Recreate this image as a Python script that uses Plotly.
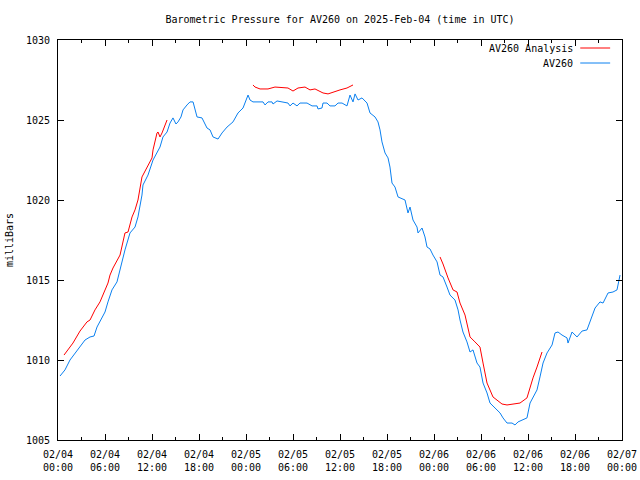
import plotly.graph_objects as go

# Hours since 2025-02-04 00:00 UTC
blue_hours = [0.26, 0.89, 1.53, 2.17, 2.81, 3.45, 4.09, 4.60, 4.98, 5.62, 6.00, 6.38, 6.89, 7.53, 7.92,
              8.55, 9.19, 9.83, 10.21, 10.47, 10.72, 10.85, 11.49, 12.13, 12.64, 13.02, 13.40, 13.92,
              14.30, 14.68, 15.06, 15.32, 15.70, 15.96, 16.47, 16.85, 17.24, 17.75, 18.38, 19.02, 19.41,
              19.79, 20.43, 20.94, 21.58, 22.34, 22.98, 23.62, 24.26, 24.51, 24.89, 26.17, 26.43, 26.81,
              27.32, 27.45, 27.96, 28.60, 29.36, 29.62, 30.00, 30.51, 30.89, 31.28, 31.79, 32.43, 33.07,
              33.19, 33.70, 33.83, 34.34, 34.72, 35.36, 35.75, 36.26, 36.89, 37.28, 37.66, 37.92, 38.30,
              38.81, 39.45, 39.83, 40.47, 40.85, 41.11, 41.36, 41.75, 42.13, 42.38, 42.64, 43.02, 43.41,
              44.30, 44.68, 44.94, 45.32, 45.83, 45.96, 46.47, 46.85, 47.11, 47.49, 47.87, 48.39, 48.77,
              49.15, 49.66, 50.04, 50.68, 51.07, 51.32, 51.70, 52.21, 52.60, 52.98, 53.49, 53.87, 54.26,
              54.77, 55.15, 55.79, 56.43, 56.81, 57.32, 57.96, 58.34, 58.73, 59.36, 59.87, 60.26, 60.64,
              61.15, 61.53, 61.92, 62.43, 63.07, 63.45, 63.83, 64.34, 64.98, 65.11, 65.62, 66.26, 66.90,
              67.53, 68.17, 68.56, 69.19, 69.58, 70.22, 70.85, 71.36, 71.75]
blue_mb = [1009.00, 1009.38, 1010.00, 1010.44, 1010.81, 1011.25, 1011.44, 1011.50, 1012.06, 1012.63,
           1013.00, 1013.63, 1014.38, 1014.88, 1015.69, 1016.88, 1017.94, 1018.31, 1018.94, 1019.56,
           1020.31, 1020.94, 1021.56, 1022.50, 1022.94, 1023.31, 1023.94, 1024.25, 1024.81, 1025.13,
           1024.75, 1024.88, 1025.19, 1025.63, 1025.94, 1026.13, 1026.13, 1025.19, 1025.13, 1024.50,
           1024.38, 1023.94, 1023.81, 1024.19, 1024.56, 1024.88, 1025.44, 1025.75, 1026.56, 1026.25,
           1026.13, 1026.13, 1025.94, 1026.13, 1026.13, 1026.00, 1026.19, 1026.13, 1026.06, 1025.88,
           1026.06, 1025.88, 1026.06, 1026.06, 1026.06, 1025.88, 1025.88, 1025.69, 1025.75, 1026.06,
           1026.06, 1025.88, 1025.88, 1026.06, 1026.06, 1025.88, 1026.56, 1026.13, 1026.63, 1026.25,
           1026.38, 1026.06, 1025.44, 1025.19, 1024.88, 1024.38, 1023.63, 1022.94, 1022.63, 1022.06,
           1021.06, 1020.81, 1020.19, 1020.00, 1019.19, 1019.56, 1018.75, 1018.31, 1017.94, 1018.25,
           1017.69, 1017.06, 1016.94, 1016.56, 1016.13, 1015.31, 1015.19, 1014.56, 1014.06, 1013.75,
           1013.13, 1012.50, 1011.75, 1011.13, 1010.50, 1010.63, 1009.81, 1009.56, 1008.56, 1007.94,
           1007.31, 1007.00, 1006.69, 1006.38, 1006.06, 1006.06, 1005.94, 1006.13, 1006.25, 1006.38,
           1007.31, 1007.69, 1008.13, 1008.94, 1009.81, 1010.44, 1010.94, 1011.69, 1011.75, 1011.56,
           1011.38, 1011.06, 1011.75, 1011.44, 1011.81, 1011.88, 1012.69, 1013.25, 1013.63, 1013.56,
           1014.19, 1014.25, 1014.38, 1015.31]

# Analysis series (None = gap between analysis runs)
red_hours = [0.77, 1.28, 1.91, 2.81, 3.70, 4.09, 4.72, 5.36, 5.74, 6.38, 6.64, 7.02, 7.92, 8.55, 8.94,
             9.45, 9.83, 10.21, 10.72, 11.36, 12.00, 12.13, 12.64, 12.77, 13.02, 13.28, 13.92, None,
             24.89, 25.15, 25.79, 26.81, 27.70, 29.36, 30.00, 30.64, 31.53, 32.17, 32.81, 33.45, 33.83,
             34.47, 35.11, 36.00, 36.89, 37.66, None,
             48.77, 49.15, 49.79, 50.43, 50.94, 51.32, 51.96, 52.60, 53.23, 53.87, 54.26, 54.77, 55.53,
             56.68, 57.32, 58.09, 58.98, 59.87, 60.26, 60.64, 61.15, 61.79]
red_mb = [1010.31, 1010.63, 1011.06, 1011.81, 1012.38, 1012.50, 1013.13, 1013.63, 1014.06, 1014.81,
          1015.31, 1015.75, 1016.56, 1017.94, 1018.00, 1018.94, 1019.38, 1020.00, 1021.44, 1022.00,
          1022.63, 1023.13, 1024.19, 1024.25, 1023.94, 1024.19, 1025.00, None,
          1027.19, 1027.06, 1026.94, 1026.94, 1027.06, 1027.00, 1026.81, 1027.00, 1027.06, 1026.88,
          1026.94, 1026.81, 1026.69, 1026.63, 1026.75, 1026.88, 1027.00, 1027.19, None,
          1016.44, 1016.00, 1015.13, 1014.38, 1014.25, 1013.56, 1012.81, 1011.44, 1011.13, 1010.81,
          1009.81, 1008.56, 1007.69, 1007.25, 1007.19, 1007.25, 1007.31, 1007.63, 1008.31, 1008.88,
          1009.56, 1010.50]

tick_hours = [0, 6, 12, 18, 24, 30, 36, 42, 48, 54, 60, 66, 72]
tick_labels = ["02/04<br>00:00", "02/04<br>06:00", "02/04<br>12:00", "02/04<br>18:00",
               "02/05<br>00:00", "02/05<br>06:00", "02/05<br>12:00", "02/05<br>18:00",
               "02/06<br>00:00", "02/06<br>06:00", "02/06<br>12:00", "02/06<br>18:00",
               "02/07<br>00:00"]
y_ticks = [1005, 1010, 1015, 1020, 1025, 1030]

RED = "#ff0000"
BLUE = "#0a80f0"
FONT = "DejaVu Sans Mono"

fig = go.Figure()
fig.add_trace(go.Scatter(x=red_hours, y=red_mb, mode="lines", name="AV260 Analysis",
                         line=dict(color=RED, width=1), connectgaps=False))
fig.add_trace(go.Scatter(x=blue_hours, y=blue_mb, mode="lines", name="AV260",
                         line=dict(color=BLUE, width=1)))

# gnuplot-style legend (text right-aligned, sample line on the right)
legend_items = [("AV260 Analysis", RED, 0.98), ("AV260", BLUE, 0.9425)]
for text, col, yy in legend_items:
    fig.add_annotation(xref="paper", yref="paper", x=0.917, y=yy, text=text, showarrow=False,
                       xanchor="right", yanchor="middle", font=dict(family=FONT, size=10, color="black"))
    fig.add_shape(type="line", xref="paper", yref="paper", x0=0.926, x1=0.979, y0=yy, y1=yy,
                  line=dict(color=col, width=1))

fig.update_layout(
    width=640, height=480,
    margin=dict(l=58, r=18, t=40, b=40, autoexpand=False),
    paper_bgcolor="white", plot_bgcolor="white",
    showlegend=False,
    font=dict(family=FONT, size=10, color="black"),
    title=dict(text="Barometric Pressure for AV260 on 2025-Feb-04 (time in UTC)",
               x=0.5, xanchor="center", xref="paper", y=0.96, yref="container", yanchor="middle",
               font=dict(family=FONT, size=10, color="black")),
)
fig.update_xaxes(range=[0, 72], tickvals=tick_hours, ticktext=tick_labels, automargin=False,
                 showgrid=False, zeroline=False, showline=True, linecolor="black", linewidth=1,
                 mirror="allticks", ticks="inside", ticklen=6, tickcolor="black",
                 ticklabelstandoff=5,
                 minor=dict(dtick=3, tick0=0, ticks="inside", ticklen=3, tickcolor="black", showgrid=False),
                 tickfont=dict(family=FONT, size=10))
fig.update_yaxes(range=[1005, 1030], tickvals=y_ticks, automargin=False,
                 showgrid=False, zeroline=False, showline=True, linecolor="black", linewidth=1,
                 mirror="allticks", ticks="inside", ticklen=6, tickcolor="black",
                 ticklabelstandoff=5,
                 title=dict(text="milliBars", font=dict(family=FONT, size=10), standoff=10),
                 tickfont=dict(family=FONT, size=10))

# remove the browser's default 8px page margin so the 640x480 figure fills the window
fig.write_html("out.html", config={"displayModeBar": False},
               post_script="document.body.style.margin='0';document.body.style.overflow='hidden';")
